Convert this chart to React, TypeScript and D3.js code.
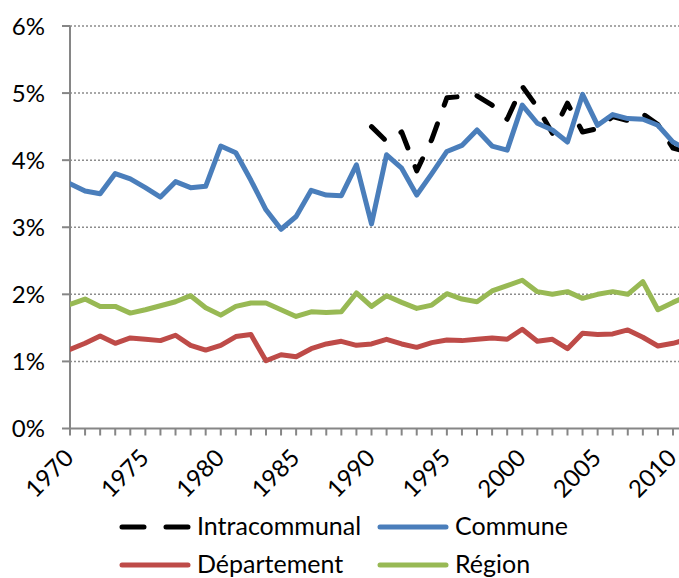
import React from "react";
import * as d3 from "d3";

const years = [
  1970, 1971, 1972, 1973, 1974, 1975, 1976, 1977, 1978, 1979,
  1980, 1981, 1982, 1983, 1984, 1985, 1986, 1987, 1988, 1989,
  1990, 1991, 1992, 1993, 1994, 1995, 1996, 1997, 1998, 1999,
  2000, 2001, 2002, 2003, 2004, 2005, 2006, 2007, 2008, 2009,
  2010, 2011,
];

const intracommunal: (number | null)[] = [
  null, null, null, null, null, null, null, null, null, null,
  null, null, null, null, null, null, null, null, null, null,
  4.5, 4.28, 4.42, 3.84, 4.31, 4.93, 4.95, 4.96, 4.82, 4.61,
  5.1, 4.79, 4.4, 4.85, 4.42, 4.47, 4.65, 4.59, 4.69, 4.53,
  4.18, 4.12,
];

const commune = [
  3.65, 3.54, 3.5, 3.8, 3.72, 3.59, 3.45, 3.68, 3.59, 3.61,
  4.21, 4.11, 3.7, 3.26, 2.97, 3.16, 3.55, 3.48, 3.47, 3.93,
  3.05, 4.08, 3.88, 3.48, 3.8, 4.13, 4.22, 4.45, 4.21, 4.15,
  4.82, 4.55, 4.45, 4.27, 4.98, 4.52, 4.68, 4.62, 4.61, 4.52,
  4.27, 4.15,
];

const departement = [
  1.18, 1.27, 1.38, 1.27, 1.35, 1.33, 1.31, 1.39, 1.24, 1.17,
  1.24, 1.37, 1.4, 1.01, 1.1, 1.07, 1.19, 1.26, 1.3, 1.24,
  1.26, 1.33, 1.26, 1.21, 1.28, 1.32, 1.31, 1.33, 1.35, 1.33,
  1.48, 1.3, 1.33, 1.19, 1.42, 1.4, 1.41, 1.47, 1.36, 1.23,
  1.27, 1.33,
];

const region = [
  1.85, 1.93, 1.82, 1.82, 1.72, 1.77, 1.83, 1.89, 1.98, 1.8,
  1.69, 1.82, 1.87, 1.87, 1.77, 1.67, 1.74, 1.73, 1.74, 2.02,
  1.82, 1.98, 1.88, 1.79, 1.84, 2.01, 1.93, 1.89, 2.05, 2.13,
  2.21, 2.04, 2.0, 2.04, 1.94, 2.0, 2.04, 2.0, 2.19, 1.77,
  1.88, 1.98,
];

const yTicks = [0, 1, 2, 3, 4, 5, 6];
const xLabels = [1970, 1975, 1980, 1985, 1990, 1995, 2000, 2005, 2010];

const seriesNames = ["Intracommunal", "Commune", "Département", "Région"];
const seriesColors = ["#000000", "#4A7EBB", "#BE4B48", "#98B954"];

const FONT = "Lato, 'Open Sans', sans-serif";

export default function App() {
  const W = 679;
  const H = 578;
  const x = d3.scaleLinear().domain([1970, 2010]).range([70, 673]);
  const y = d3.scaleLinear().domain([0, 6]).range([428.5, 26]);
  const axisColor = "#868686";

  const line = d3
    .line<number | null>()
    .defined((d) => d !== null)
    .x((_, i) => x(years[i]))
    .y((d) => y(d as number))
    .curve(d3.curveLinear);

  const data = [intracommunal, commune, departement, region];
  const x0 = x(1970);
  const yBase = y(0);

  const legendItems = [
    { name: seriesNames[0], color: seriesColors[0], lx: 122, tx: 197, cy: 527, dashed: true },
    { name: seriesNames[1], color: seriesColors[1], lx: 380, tx: 455, cy: 527, dashed: false },
    { name: seriesNames[2], color: seriesColors[2], lx: 122, tx: 197, cy: 565, dashed: false },
    { name: seriesNames[3], color: seriesColors[3], lx: 380, tx: 455, cy: 565, dashed: false },
  ];

  return (
    <svg
      width={W}
      height={H}
      style={{ position: "absolute", left: 0, top: 0, background: "#fff" }}
      fontFamily={FONT}
    >
      <defs>
        <clipPath id="plot">
          <rect x={x0} y={0} width={W - x0} height={yBase + 5} />
        </clipPath>
      </defs>
      {yTicks
        .filter((t) => t > 0)
        .map((t) => (
          <line
            key={"g" + t}
            x1={x0}
            x2={W}
            y1={y(t)}
            y2={y(t)}
            stroke="#8c8c8c"
            strokeWidth={1.5}
            strokeDasharray="2 2"
          />
        ))}
      <line x1={x0} x2={x0} y1={y(6)} y2={yBase} stroke={axisColor} strokeWidth={2} />
      {yTicks.map((t) => (
        <g key={"yt" + t}>
          <line x1={x0 - 8} x2={x0} y1={y(t)} y2={y(t)} stroke={axisColor} strokeWidth={2} />
          <text x={45} y={y(t) + 8.5} textAnchor="end" fontSize={24} fill="#000">
            {t + "%"}
          </text>
        </g>
      ))}
      <line x1={x0} x2={W} y1={yBase} y2={yBase} stroke={axisColor} strokeWidth={2} />
      {years.map((yr) => (
        <line
          key={"xt" + yr}
          x1={x(yr)}
          x2={x(yr)}
          y1={yBase}
          y2={yBase + 7}
          stroke={axisColor}
          strokeWidth={2}
        />
      ))}
      {xLabels.map((yr) => (
        <text
          key={"xl" + yr}
          transform={`translate(${x(yr) + 5},${yBase + 31}) rotate(-45)`}
          textAnchor="end"
          fontSize={24}
          fill="#000"
        >
          {yr}
        </text>
      ))}
      <g clipPath="url(#plot)">
        {data.map((s, i) => (
          <path
            key={"s" + i}
            d={line(s) || ""}
            fill="none"
            stroke={seriesColors[i]}
            strokeWidth={5}
            strokeLinejoin="round"
            strokeLinecap="round"
            strokeDasharray={i === 0 ? "18 20" : undefined}
          />
        ))}
      </g>
      {legendItems.map((it) => (
        <g key={"lg" + it.name}>
          <line
            x1={it.lx}
            x2={it.lx + 66}
            y1={it.cy}
            y2={it.cy}
            stroke={it.color}
            strokeWidth={5}
            strokeLinecap="round"
            strokeDasharray={it.dashed ? "22 22" : undefined}
          />
          <text x={it.tx} y={it.cy + 8} fontSize={25} fill="#000">
            {it.name}
          </text>
        </g>
      ))}
    </svg>
  );
}
